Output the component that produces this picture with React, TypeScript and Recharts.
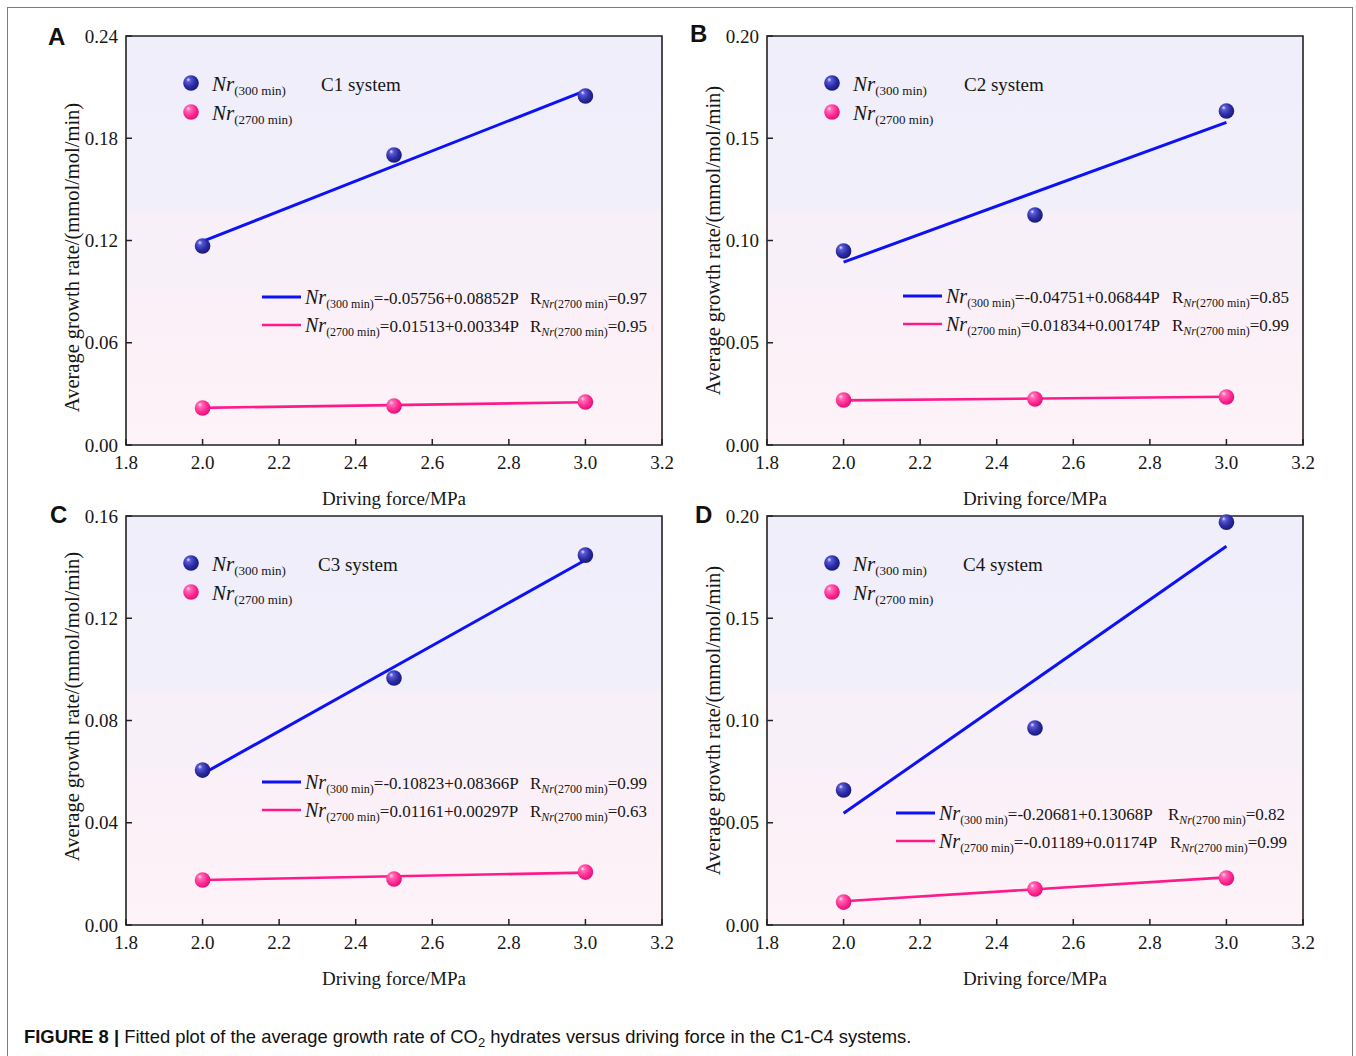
import React from "react";
import {
  CartesianGrid,
  ComposedChart,
  Line,
  ReferenceArea,
  Scatter,
  XAxis,
  YAxis
} from "recharts";

const forceTicks = [1.8, 2.0, 2.2, 2.4, 2.6, 2.8, 3.0, 3.2];

// C1 system
const c1Nr300 = [
  { x: 2.0, y: 0.1168 },
  { x: 2.5, y: 0.1702 },
  { x: 3.0, y: 0.2048 }
];
const c1Nr2700 = [
  { x: 2.0, y: 0.0217 },
  { x: 2.5, y: 0.0229 },
  { x: 3.0, y: 0.0252 }
];
const c1Fit300 = [
  { x: 2.0, y: 0.1195 },
  { x: 3.0, y: 0.208 }
];
const c1Fit2700 = [
  { x: 2.0, y: 0.0218 },
  { x: 3.0, y: 0.0251 }
];
const c1Ticks = [0, 0.06, 0.12, 0.18, 0.24];

// C2 system
const c2Nr300 = [
  { x: 2.0, y: 0.0949 },
  { x: 2.5, y: 0.1125 },
  { x: 3.0, y: 0.1633 }
];
const c2Nr2700 = [
  { x: 2.0, y: 0.022 },
  { x: 2.5, y: 0.0225 },
  { x: 3.0, y: 0.0235 }
];
const c2Fit300 = [
  { x: 2.0, y: 0.0894 },
  { x: 3.0, y: 0.1578 }
];
const c2Fit2700 = [
  { x: 2.0, y: 0.0218 },
  { x: 3.0, y: 0.0236 }
];
const c2Ticks = [0, 0.05, 0.1, 0.15, 0.2];

// C3 system
const c3Nr300 = [
  { x: 2.0, y: 0.0606 },
  { x: 2.5, y: 0.0966 },
  { x: 3.0, y: 0.1447 }
];
const c3Nr2700 = [
  { x: 2.0, y: 0.0176 },
  { x: 2.5, y: 0.018 },
  { x: 3.0, y: 0.0207 }
];
const c3Fit300 = [
  { x: 2.0, y: 0.0591 },
  { x: 3.0, y: 0.1428 }
];
const c3Fit2700 = [
  { x: 2.0, y: 0.0176 },
  { x: 3.0, y: 0.0205 }
];
const c3Ticks = [0, 0.04, 0.08, 0.12, 0.16];

// C4 system
const c4Nr300 = [
  { x: 2.0, y: 0.066 },
  { x: 2.5, y: 0.0963 },
  { x: 3.0, y: 0.197 }
];
const c4Nr2700 = [
  { x: 2.0, y: 0.0112 },
  { x: 2.5, y: 0.0176 },
  { x: 3.0, y: 0.023 }
];
const c4Fit300 = [
  { x: 2.0, y: 0.0546 },
  { x: 3.0, y: 0.1852 }
];
const c4Fit2700 = [
  { x: 2.0, y: 0.0116 },
  { x: 3.0, y: 0.0233 }
];
const c4Ticks = [0, 0.05, 0.1, 0.15, 0.2];

const SERIF = '"Liberation Serif", "Times New Roman", serif';
const SANS = '"Liberation Sans", Arial, sans-serif';
const BLUE = "#0c12f5";
const PINK = "#ff1a8c";
const INK = "#161616";

// chart box: y axis 110 wide, plot 536x409, x axis 70 high
const CH_W = 666;
const CH_H = 495;
const AX_W = 110;
const TOP = 16;

const panels = [
  {
    key: "a", letter: "A", system: "C1 system", px: 126, py: 36, ticks: c1Ticks,
    nr300: c1Nr300, nr2700: c1Nr2700, fit300: c1Fit300, fit2700: c1Fit2700,
    eq300: "=-0.05756+0.08852P", r300: "=0.97", eq2700: "=0.01513+0.00334P", r2700: "=0.95",
    letterAt: [48, 45], sysX: 195, eqX: 136, eqY: 261, rX: [404, 404], yShift: 17
  },
  {
    key: "b", letter: "B", system: "C2 system", px: 767, py: 36, ticks: c2Ticks,
    nr300: c2Nr300, nr2700: c2Nr2700, fit300: c2Fit300, fit2700: c2Fit2700,
    eq300: "=-0.04751+0.06844P", r300: "=0.85", eq2700: "=0.01834+0.00174P", r2700: "=0.99",
    letterAt: [690, 42], sysX: 197, eqX: 136, eqY: 260, rX: [405, 405], yShift: 0
  },
  {
    key: "c", letter: "C", system: "C3 system", px: 126, py: 516, ticks: c3Ticks,
    nr300: c3Nr300, nr2700: c3Nr2700, fit300: c3Fit300, fit2700: c3Fit2700,
    eq300: "=-0.10823+0.08366P", r300: "=0.99", eq2700: "=0.01161+0.00297P", r2700: "=0.63",
    letterAt: [50, 523], sysX: 192, eqX: 136, eqY: 266, rX: [404, 404], yShift: -14
  },
  {
    key: "d", letter: "D", system: "C4 system", px: 767, py: 516, ticks: c4Ticks,
    nr300: c4Nr300, nr2700: c4Nr2700, fit300: c4Fit300, fit2700: c4Fit2700,
    eq300: "=-0.20681+0.13068P", r300: "=0.82", eq2700: "=-0.01189+0.01174P", r2700: "=0.99",
    letterAt: [695, 523], sysX: 196, eqX: 129, eqY: 297, rX: [401, 403], yShift: 0
  }
];

const ball = (id: string) => (props: any) => {
  const { cx, cy } = props;
  if (cx == null || cy == null) return null;
  return <circle cx={cx} cy={cy} r={7.8} fill={`url(#${id})`} />;
};

function Panel({ p }: { p: any }) {
  const yMax = p.ticks[p.ticks.length - 1];
  return (
    <div style={{ position: "absolute", left: p.px - AX_W, top: p.py - TOP }}>
      <ComposedChart width={CH_W} height={CH_H} margin={{ top: TOP, right: 20, bottom: 0, left: 0 }}>
        <defs>
          <linearGradient id={`bg-${p.key}`} x1="0" y1="0" x2="0" y2="1">
            <stop offset="0" stopColor="#efeefb" />
            <stop offset="0.42" stopColor="#f1eff9" />
            <stop offset="0.44" stopColor="#f7f0f8" />
            <stop offset="0.62" stopColor="#f8f0f8" />
            <stop offset="0.64" stopColor="#fbf0f7" />
            <stop offset="1" stopColor="#fdf3f8" />
          </linearGradient>
          <radialGradient id={`blue-${p.key}`} cx="0.4" cy="0.38" r="0.62" fx="0.32" fy="0.28">
            <stop offset="0" stopColor="#e4e4ff" />
            <stop offset="0.22" stopColor="#5a5ad6" />
            <stop offset="0.65" stopColor="#2c2ca4" />
            <stop offset="1" stopColor="#1b1b78" />
          </radialGradient>
          <radialGradient id={`pink-${p.key}`} cx="0.4" cy="0.38" r="0.62" fx="0.32" fy="0.28">
            <stop offset="0" stopColor="#ffe4f2" />
            <stop offset="0.22" stopColor="#ff6cb7" />
            <stop offset="0.65" stopColor="#ff2d93" />
            <stop offset="1" stopColor="#e0127a" />
          </radialGradient>
        </defs>
        <CartesianGrid horizontal={false} vertical={false} fill={`url(#bg-${p.key})`} />
        <XAxis
          dataKey="x"
          type="number"
          domain={[1.8, 3.2]}
          ticks={forceTicks}
          interval={0}
          tickFormatter={(v: number) => v.toFixed(1)}
          axisLine={false}
          tickSize={-6}
          tickMargin={17}
          tickLine={{ stroke: "#222", strokeWidth: 1.5 }}
          tick={{ fontFamily: SERIF, fontSize: 19, fill: INK }}
          height={70}
          label={{
            value: "Driving force/MPa",
            position: "insideBottom",
            offset: 10,
            fontFamily: SERIF,
            fontSize: 19,
            fill: INK
          }}
        />
        <YAxis
          type="number"
          domain={[0, yMax]}
          ticks={p.ticks}
          interval={0}
          tickFormatter={(v: number) => v.toFixed(2)}
          axisLine={false}
          tickSize={-6}
          tickMargin={14}
          tickLine={{ stroke: "#222", strokeWidth: 1.5 }}
          tick={{ fontFamily: SERIF, fontSize: 19, fill: INK }}
          width={AX_W}
          label={{
            value: "Average growth rate/(mmol/mol/min)",
            angle: -90,
            position: "insideLeft",
            offset: 56,
            dy: p.yShift,
            fontFamily: SERIF,
            fontSize: 20.5,
            fill: INK,
            style: { textAnchor: "middle" }
          }}
        />
        <ReferenceArea x1={1.8} x2={3.2} y1={0} y2={yMax} fill="none" fillOpacity={0} stroke="#222" strokeWidth={1.6} />
        <Line data={p.fit300} dataKey="y" stroke={BLUE} strokeWidth={3} dot={false} isAnimationActive={false} />
        <Line data={p.fit2700} dataKey="y" stroke={PINK} strokeWidth={2.6} dot={false} isAnimationActive={false} />
        <Scatter data={p.nr300} dataKey="y" shape={ball(`blue-${p.key}`)} isAnimationActive={false} />
        <Scatter data={p.nr2700} dataKey="y" shape={ball(`pink-${p.key}`)} isAnimationActive={false} />
      </ComposedChart>
    </div>
  );
}

function Legends({ p }: { p: any }) {
  const x0 = p.px;
  const y0 = p.py;
  const ey = y0 + p.eqY;
  const ex = x0 + p.eqX;
  return (
    <g>
      <text x={p.letterAt[0]} y={p.letterAt[1]} fontFamily={SANS} fontWeight="bold" fontSize={24} fill="#111">
        {p.letter}
      </text>
      <circle cx={x0 + 65} cy={y0 + 47} r={7.8} fill={`url(#blue-${p.key})`} />
      <circle cx={x0 + 65} cy={y0 + 76} r={7.8} fill={`url(#pink-${p.key})`} />
      <text x={x0 + 86} y={y0 + 55} fontFamily={SERIF} fill={INK}>
        <tspan fontStyle="italic" fontSize={21}>Nr</tspan>
        <tspan fontSize={13} dy={4}>(300 min)</tspan>
      </text>
      <text x={x0 + 86} y={y0 + 84} fontFamily={SERIF} fill={INK}>
        <tspan fontStyle="italic" fontSize={21}>Nr</tspan>
        <tspan fontSize={13} dy={4}>(2700 min)</tspan>
      </text>
      <text x={x0 + p.sysX} y={y0 + 55} fontFamily={SERIF} fontSize={19} fill={INK}>
        {p.system}
      </text>
      {[
        { c: BLUE, w: 3, sub: "(300 min)", eq: p.eq300, r: p.r300, rx: p.rX[0], dy: 0 },
        { c: PINK, w: 2.6, sub: "(2700 min)", eq: p.eq2700, r: p.r2700, rx: p.rX[1], dy: 28 }
      ].map((row) => (
        <g key={row.sub}>
          <line x1={ex} x2={ex + 39} y1={ey + row.dy} y2={ey + row.dy} stroke={row.c} strokeWidth={row.w} />
          <text x={ex + 43} y={ey + row.dy + 7} fontFamily={SERIF} fontSize={17} fill={INK}>
            <tspan fontStyle="italic" fontSize={20}>Nr</tspan>
            <tspan fontSize={12} dy={4}>{row.sub}</tspan>
            <tspan dy={-4}>{row.eq}</tspan>
          </text>
          <text x={x0 + row.rx} y={ey + row.dy + 7} fontFamily={SERIF} fontSize={17} fill={INK}>
            R
            <tspan fontSize={12} dy={4}>
              <tspan fontStyle="italic">Nr</tspan>(2700 min)
            </tspan>
            <tspan dy={-4}>{row.r}</tspan>
          </text>
        </g>
      ))}
    </g>
  );
}

export default function App() {
  return (
    <div style={{ position: "relative", width: 1356, height: 1056, overflow: "hidden", background: "#fff" }}>
      <style>{"body{margin:0;overflow:hidden;}"}</style>
      <div
        style={{
          position: "absolute",
          left: 7,
          top: 7,
          width: 1344,
          height: 1100,
          border: "1.5px solid #7c7c7c"
        }}
      />
      {panels.map((p) => (
        <Panel key={p.key} p={p} />
      ))}
      <svg
        width={1356}
        height={1056}
        style={{ position: "absolute", left: 0, top: 0, pointerEvents: "none" }}
      >
        {panels.map((p) => (
          <Legends key={p.key} p={p} />
        ))}
        <text x={24} y={1043} fontFamily={SANS} fontSize={18.4} fill="#111">
          <tspan fontWeight="bold">FIGURE 8 | </tspan>
          Fitted plot of the average growth rate of CO
          <tspan fontSize={13} dy={4}>2</tspan>
          <tspan dy={-4}> hydrates versus driving force in the C1-C4 systems.</tspan>
        </text>
      </svg>
    </div>
  );
}
